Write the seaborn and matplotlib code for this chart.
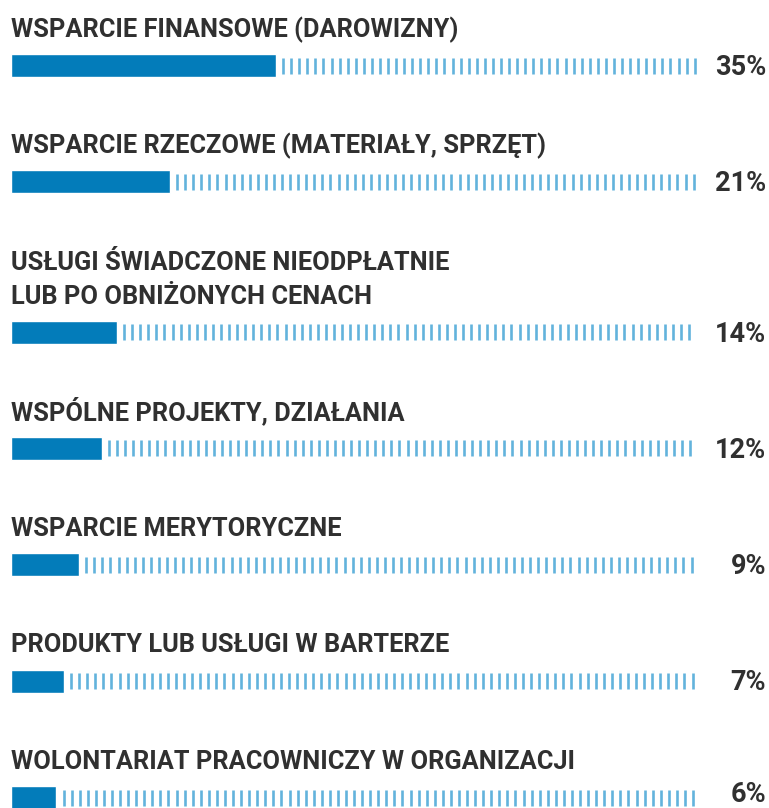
import matplotlib
matplotlib.use("Agg")
import matplotlib.pyplot as plt
import numpy as np
import pandas as pd
import seaborn as sns

labels = [
    "WSPARCIE FINANSOWE (DAROWIZNY)",
    "WSPARCIE RZECZOWE (MATERIAŁY, SPRZĘT)",
    "USŁUGI ŚWIADCZONE NIEODPŁATNIE\nLUB PO OBNIŻONYCH CENACH",
    "WSPÓLNE PROJEKTY, DZIAŁANIA",
    "WSPARCIE MERYTORYCZNE",
    "PRODUKTY LUB USŁUGI W BARTERZE",
    "WOLONTARIAT PRACOWNICZY W ORGANIZACJI",
]
values = [35, 21, 14, 12, 9, 7, 6]
pct_labels = ["35%", "21%", "14%", "12%", "9%", "7%", "6%"]

# layout (pixels)
W, H = 769, 808
px_per_pct = 7.57
x0_px = 11
track_end = 90.5
row_gap = 116.3
line_gap = 34
bar_h = 23

centers = []
y = 65.5
for lab in labels:
    y += lab.count("\n") * line_gap
    centers.append(y)
    y += row_gap
centers[-1] += 0.5

sns.set_theme(style="white")
plt.rcParams["font.family"] = ["Roboto", "DejaVu Sans"]

fig = plt.figure(figsize=(W / 100, H / 100), dpi=100)
ax = fig.add_axes([0, 0, 1, 1])

df = pd.DataFrame({"value": values, "pos": centers})
sns.barplot(data=df, x="value", y="pos", orient="h", native_scale=True,
            width=bar_h / row_gap, color="#037cba", saturation=1, ax=ax)

# striped remainder of the track
step = 8.07 / px_per_pct
gap = 6 / px_per_pct
for v, c in zip(values, centers):
    xs = np.arange(v + gap + 0.15, track_end, step)
    ax.vlines(xs, c - 8, c + 8, color="#62b3dc", linewidth=1.9)

ax.set_xlim(-x0_px / px_per_pct, (W - x0_px) / px_per_pct)
ax.set_ylim(H, 0)
ax.axis("off")

for lab, pct, c in zip(labels, pct_labels, centers):
    lines = lab.split("\n")
    base = c - bar_h / 2 - 17
    for i, ln in enumerate(reversed(lines)):
        ax.text(0, base - i * line_gap, ln, fontsize=18.3, fontweight="bold",
                color="#303030", ha="left", va="baseline")
    ax.text((766 - x0_px) / px_per_pct, min(c + 9.5, H - 6), pct,
            fontsize=19.5, fontweight="bold", color="#303030",
            ha="right", va="baseline")

fig.savefig("out.png", dpi=100)
